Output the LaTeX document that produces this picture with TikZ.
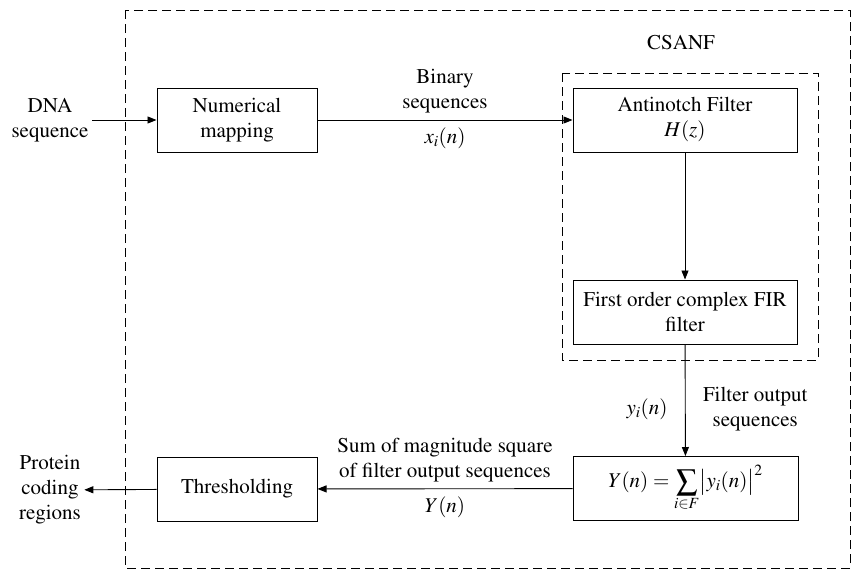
\documentclass[tikz,border=0pt]{standalone}
\usepackage[T1]{fontenc}
\usepackage{mathptmx}
\usetikzlibrary{arrows.meta}

\begin{document}
\begin{tikzpicture}[x=1pt,y=-1pt,font=\fontsize{21}{25}\selectfont,
    blk/.style={draw,line width=1pt,align=center,minimum height=64pt},
    frame/.style={draw,line width=1pt,dash pattern=on 9pt off 5pt},
    sig/.style={line width=0.9pt,-{Triangle[length=9pt,width=7pt]}}]
        \useasboundingbox(0,0)rectangle(853,573);
        % dashed frames
        \draw[frame](125,10)rectangle(850,568);
        \draw[frame](562,73)rectangle(818,360);
        \node(csanf)at(681,42){CSANF};
        % blocks
        \node[blk,minimum width=160pt](num)at(237,120){Numerical\\mapping};
        \node[blk,minimum width=224pt](anf)at(685,120){Antinotch Filter\\$H(z)$};
        \node[blk,minimum width=224pt](fir)at(685,312){First order complex FIR\\filter};
        \node[blk,minimum width=225pt](sum)at(685.5,488.5){$Y(n)=\displaystyle\sum_{i\in F}\bigl|y_i(n)\bigr|^2$};
        \node[blk,minimum width=160pt](thr)at(237,489){Thresholding};
        \node[align=center](dna)at(50,120){DNA\\sequence};
        \node[align=center](prot)at(50,490){Protein\\coding\\regions};
        % connectors
        \draw[sig](dna)--(num);
        \draw[sig](num)--node[above,align=center,yshift=3pt]{Binary\\sequences}node[below,yshift=-4pt]{$x_i(n)$}(anf);
        \draw[sig](anf)--(fir);
        \draw[sig](fir)--node[pos=0.58,left,xshift=-14pt]{$y_i(n)$}node[pos=0.58,right,align=center,xshift=14pt]{Filter output\\sequences}(sum);
        \draw[sig](sum)--node[above,align=center,yshift=3pt]{Sum of magnitude square\\of filter output sequences}node[below,yshift=-4pt]{$Y(n)$}(thr);
        \draw[sig](thr)--(prot);

    \end{tikzpicture}
\end{document}
